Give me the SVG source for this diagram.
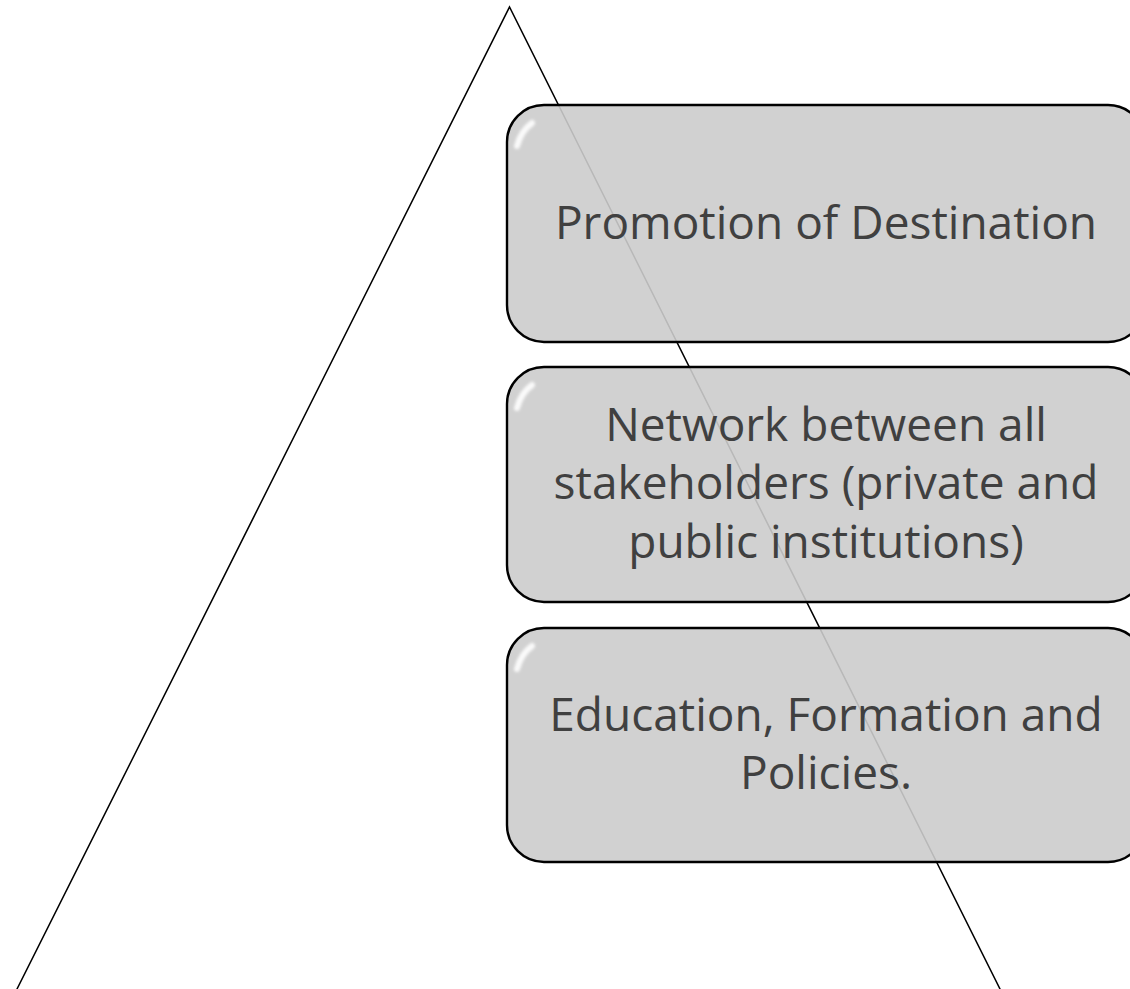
<svg xmlns="http://www.w3.org/2000/svg" width="1130" height="989" viewBox="0 0 1130 989">
  <defs>
    <filter id="soft" x="-50%" y="-50%" width="200%" height="200%">
      <feGaussianBlur stdDeviation="1.5"/>
    </filter>
  </defs>
  <style>
    .tri { fill: none; stroke: #000; stroke-width: 1.5; }
    .box { fill: #cccccc; fill-opacity: 0.9; stroke: #000; stroke-width: 2.4; }
    .gloss { fill: none; stroke: #fff; stroke-width: 6; stroke-linecap: round; opacity: 0.9; filter: url(#soft); }
    .lbl { font-family: "Open Sans", "DejaVu Sans", sans-serif; font-size: 46px; fill: #404040; text-anchor: middle; }
  </style>
  <g id="pyramid">
    <polyline class="tri" points="11.5,1000 509.5,7 1005.5,1000"/>
  </g>
  <g id="connectors"></g>
  <g id="node-promotion">
    <rect class="box" x="507" y="105" width="638" height="237" rx="37" ry="37"/>
    <path class="gloss" d="M517,146 Q521,131 532,123"/>
    <text class="lbl" x="826" y="239">Promotion of Destination</text>
  </g>
  <g id="node-network">
    <rect class="box" x="507" y="367" width="638" height="235" rx="37" ry="37"/>
    <path class="gloss" d="M517,408 Q521,393 532,385"/>
    <text class="lbl" x="826" y="441">Network between all</text>
    <text class="lbl" x="826" y="499">stakeholders (private and</text>
    <text class="lbl" x="826" y="558">public institutions)</text>
  </g>
  <g id="node-education">
    <rect class="box" x="507" y="628" width="638" height="234" rx="37" ry="37"/>
    <path class="gloss" d="M517,669 Q521,654 532,646"/>
    <text class="lbl" x="826" y="731">Education, Formation and</text>
    <text class="lbl" x="826" y="789">Policies.</text>
  </g>
</svg>
